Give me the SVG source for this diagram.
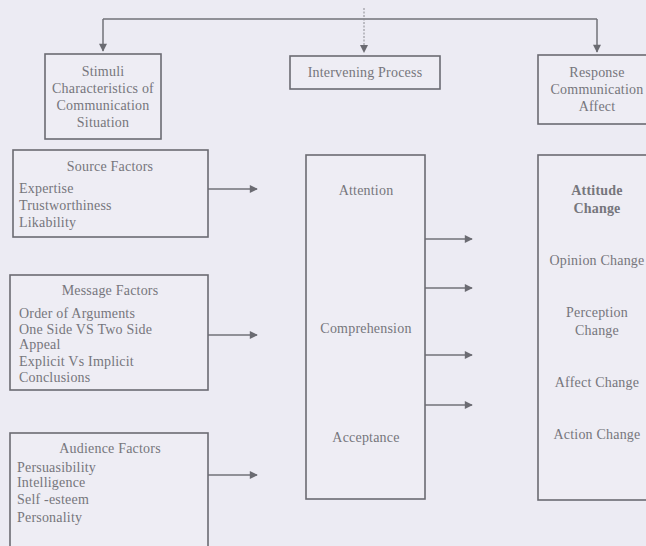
<svg xmlns="http://www.w3.org/2000/svg" width="646" height="546" viewBox="0 0 646 546">
<style>
.bg{fill:#ecebf3}
.box{fill:#eeedf4;stroke:#6b6b72;stroke-width:1.6}
.ln{fill:none;stroke:#727278;stroke-width:1.5}
.dl{fill:none;stroke:#8a8a90;stroke-width:1;stroke-dasharray:2 1.5}
text{font-family:"Liberation Serif","Times New Roman",serif;font-size:14px;letter-spacing:0.2px;fill:#76767c}
.c{text-anchor:middle}
.b{font-weight:bold}
</style>
<defs>
<marker id="ah" viewBox="0 0 10 10" refX="9" refY="5" markerWidth="9" markerHeight="8" markerUnits="userSpaceOnUse" orient="auto">
<path d="M0,0 L10,5 L0,10 z" fill="#6b6b72"/>
</marker>
</defs>
<rect class="bg" x="0" y="0" width="646" height="546"/>
<g id="connectors">
<path class="ln" d="M103,19 H597"/>
<path class="ln" d="M103,19 V51" marker-end="url(#ah)"/>
<path class="dl" d="M364,8 V51"/>
<path d="M360,45 L368,45 L364,53 z" fill="#6b6b72"/>
<path class="ln" d="M597,19 V52" marker-end="url(#ah)"/>
<path class="ln" d="M208,189 H257" marker-end="url(#ah)"/>
<path class="ln" d="M208,335 H257" marker-end="url(#ah)"/>
<path class="ln" d="M208,475 H257" marker-end="url(#ah)"/>
<path class="ln" d="M425,239 H472" marker-end="url(#ah)"/>
<path class="ln" d="M425,288 H472" marker-end="url(#ah)"/>
<path class="ln" d="M425,355 H472" marker-end="url(#ah)"/>
<path class="ln" d="M425,405 H472" marker-end="url(#ah)"/>
</g>
<g id="stimuli">
<rect class="box" x="45" y="54" width="116" height="85"/>
<text class="c" x="103" y="76">Stimuli</text>
<text class="c" x="103" y="93">Characteristics of</text>
<text class="c" x="103" y="110">Communication</text>
<text class="c" x="103" y="127">Situation</text>
</g>
<g id="intervening">
<rect class="box" x="290" y="56" width="150" height="33"/>
<text class="c" x="365" y="77">Intervening Process</text>
</g>
<g id="response">
<rect class="box" x="538" y="55" width="120" height="69"/>
<text class="c" x="597" y="77">Response</text>
<text class="c" x="597" y="94">Communication</text>
<text class="c" x="597" y="111">Affect</text>
</g>
<g id="source">
<rect class="box" x="13" y="150" width="195" height="87"/>
<text class="c" x="110" y="171">Source Factors</text>
<text x="19" y="193">Expertise</text>
<text x="19" y="210">Trustworthiness</text>
<text x="19" y="227">Likability</text>
</g>
<g id="message">
<rect class="box" x="10" y="275" width="198" height="115"/>
<text class="c" x="110" y="295">Message Factors</text>
<text x="19" y="318">Order of Arguments</text>
<text x="19" y="334">One Side VS Two Side</text>
<text x="19" y="349">Appeal</text>
<text x="19" y="366">Explicit Vs Implicit</text>
<text x="19" y="382">Conclusions</text>
</g>
<g id="audience">
<rect class="box" x="10" y="433" width="198" height="125"/>
<text class="c" x="110" y="453">Audience Factors</text>
<text x="17" y="472">Persuasibility</text>
<text x="17" y="487">Intelligence</text>
<text x="17" y="504">Self -esteem</text>
<text x="17" y="522">Personality</text>
</g>
<g id="process">
<rect class="box" x="306" y="155" width="119" height="344"/>
<text class="c" x="366" y="195">Attention</text>
<text class="c" x="366" y="333">Comprehension</text>
<text class="c" x="366" y="442">Acceptance</text>
</g>
<g id="effects">
<rect class="box" x="538" y="155" width="120" height="345"/>
<text class="c b" x="597" y="195">Attitude</text>
<text class="c b" x="597" y="213">Change</text>
<text class="c" x="597" y="265">Opinion Change</text>
<text class="c" x="597" y="317">Perception</text>
<text class="c" x="597" y="335">Change</text>
<text class="c" x="597" y="387">Affect Change</text>
<text class="c" x="597" y="439">Action Change</text>
</g>
</svg>
